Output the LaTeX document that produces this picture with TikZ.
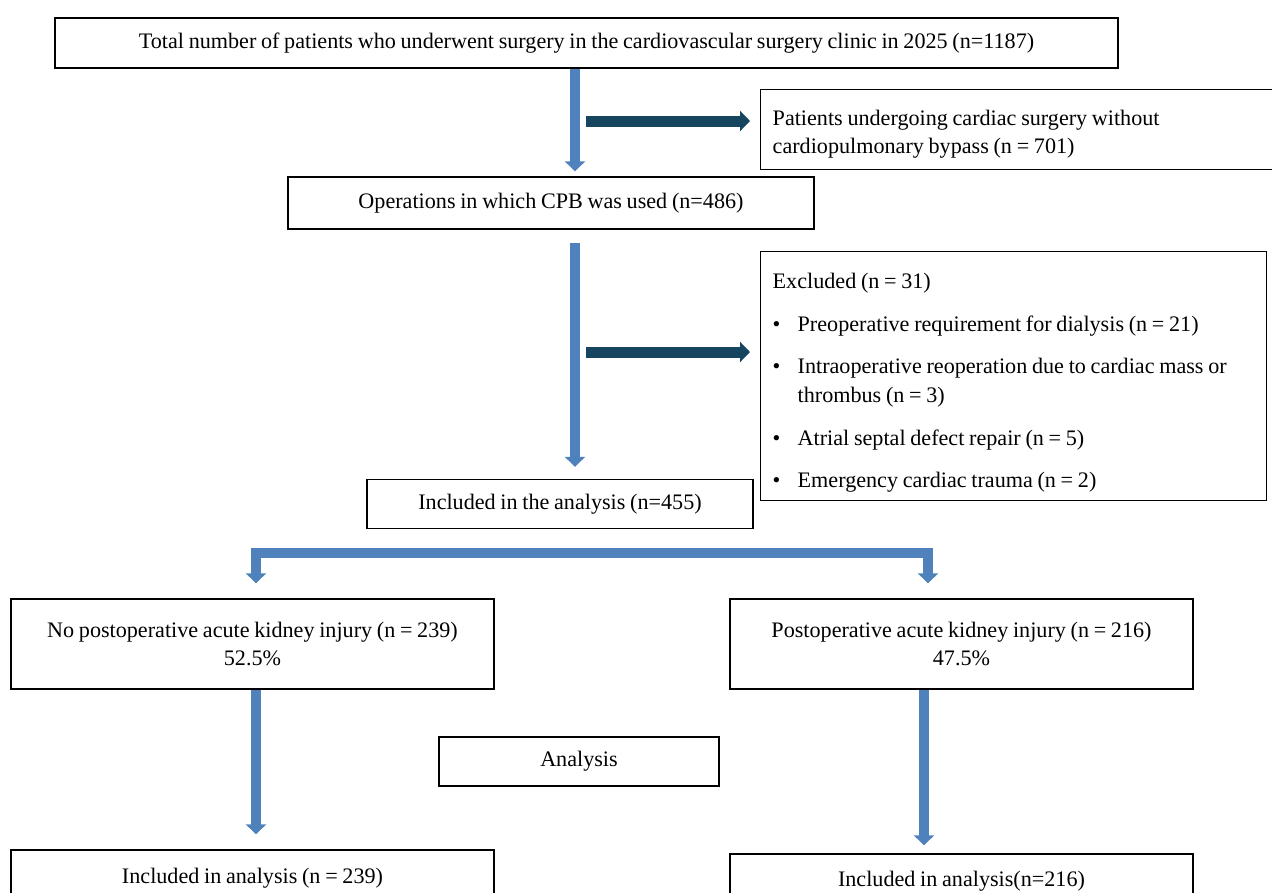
\documentclass[tikz,border=0pt]{standalone}
\usepackage{fontspec}
\setmainfont[WordSpace=0.85]{Liberation Serif}
\usetikzlibrary{arrows.meta}
\definecolor{flowblue}{RGB}{79,129,189}
\definecolor{flowdark}{RGB}{22,70,95}
\tikzstyle{box} = [rectangle, draw=black, line width=0.8pt, text centered, font=\fontsize{12.6}{16}\selectfont]
\tikzstyle{sidebox} = [rectangle, draw=black, line width=0.8pt, align=flush left, inner xsep=0.24cm, inner ysep=0.1cm, font=\fontsize{12.6}{16.5}\selectfont]
\tikzstyle{bluearrow} = [draw=flowblue, line width=0.2cm, -{Triangle[width=0.4cm,length=0.2cm]}]
\tikzstyle{darkarrow} = [draw=flowdark, line width=0.22cm, -{Triangle[width=0.4cm,length=0.2cm]}]

\begin{document}
\begin{tikzpicture}[x=0.02cm, y=-0.02cm]
\useasboundingbox (0,0) rectangle (1272,893);

\node (top) [box, minimum width=21.26cm, minimum height=1cm] at (586.5,43) {Total number of patients who underwent surgery in the cardiovascular surgery clinic in 2025 (n=1187)};
\node (np) [sidebox, anchor=north west, text width=10cm, text height=0.5cm, minimum height=1.6cm, font=\fontsize{12.6}{16}\selectfont] at (760,89) {Patients undergoing cardiac surgery without\\cardiopulmonary bypass (n = 701)};
\node (cpb) [box, minimum width=10.52cm, minimum height=1.04cm] at (551,203) {Operations in which CPB was used (n=486)};
\node (excl) [sidebox, anchor=north west, text width=9.64cm, text height=0.58cm, minimum height=4.98cm] at (760,251) {Excluded (n = 31)\\[0.27cm]
\makebox[0.5cm][l]{\textbullet}Preoperative requirement for dialysis (n = 21)\\[0.27cm]
\makebox[0.5cm][l]{\textbullet}Intraoperative reoperation due to cardiac mass or\\
\hspace*{0.5cm}thrombus (n = 3)\\[0.27cm]
\makebox[0.5cm][l]{\textbullet}Atrial septal defect repair (n = 5)\\[0.27cm]
\makebox[0.5cm][l]{\textbullet}Emergency cardiac trauma (n = 2)};
\node (incl) [box, minimum width=7.72cm, minimum height=0.98cm] at (560,504) {Included in the analysis (n=455)};
\node (noaki) [box, align=center, minimum width=9.66cm, minimum height=1.8cm] at (252.5,644) {No postoperative acute kidney injury (n = 239)\\52.5\%};
\node (aki) [box, align=center, minimum width=9.26cm, minimum height=1.8cm] at (961.5,644) {Postoperative acute kidney injury (n = 216)\\47.5\%};
\node (analysis) [box, minimum width=5.6cm, minimum height=0.98cm] at (579,761.5) {Analysis};
\node (inc1) [box, minimum width=9.66cm, minimum height=1.12cm] at (252.5,878) {Included in analysis (n = 239)};
\node (inc2) [box, minimum width=9.26cm, minimum height=1.08cm] at (961.5,881) {Included in analysis(n=216)};

\coordinate (spine) at (575,0);
\coordinate (branch1) at (586,121);
\coordinate (branch2) at (586,352);
\coordinate (split) at (575,553);
\coordinate (dropL) at (256,553);
\coordinate (dropR) at (928,553);
\coordinate (downR) at (924,0);

%% flechas despues de las cajas
\draw [bluearrow, shorten >=0.1cm] (spine |- top.south) -- (spine |- cpb.north);
\draw [darkarrow, shorten >=0.2cm] (branch1) -- (branch1 -| np.west);
\draw [bluearrow, shorten <=0.26cm, shorten >=0.24cm] (spine |- cpb.south) -- (spine |- incl.north);
\draw [darkarrow, shorten >=0.2cm] (branch2) -- (branch2 -| excl.west);
\draw [bluearrow, shorten >=0.3cm] (split) -- (dropL) -- (dropL |- noaki.north);
\draw [bluearrow, shorten >=0.3cm] (split) -- (dropR) -- (dropR |- aki.north);
\draw [bluearrow, shorten >=0.3cm] (dropL |- noaki.south) -- (dropL |- inc1.north);
\draw [bluearrow, shorten >=0.16cm] (downR |- aki.south) -- (downR |- inc2.north);

\end{tikzpicture}
\end{document}
